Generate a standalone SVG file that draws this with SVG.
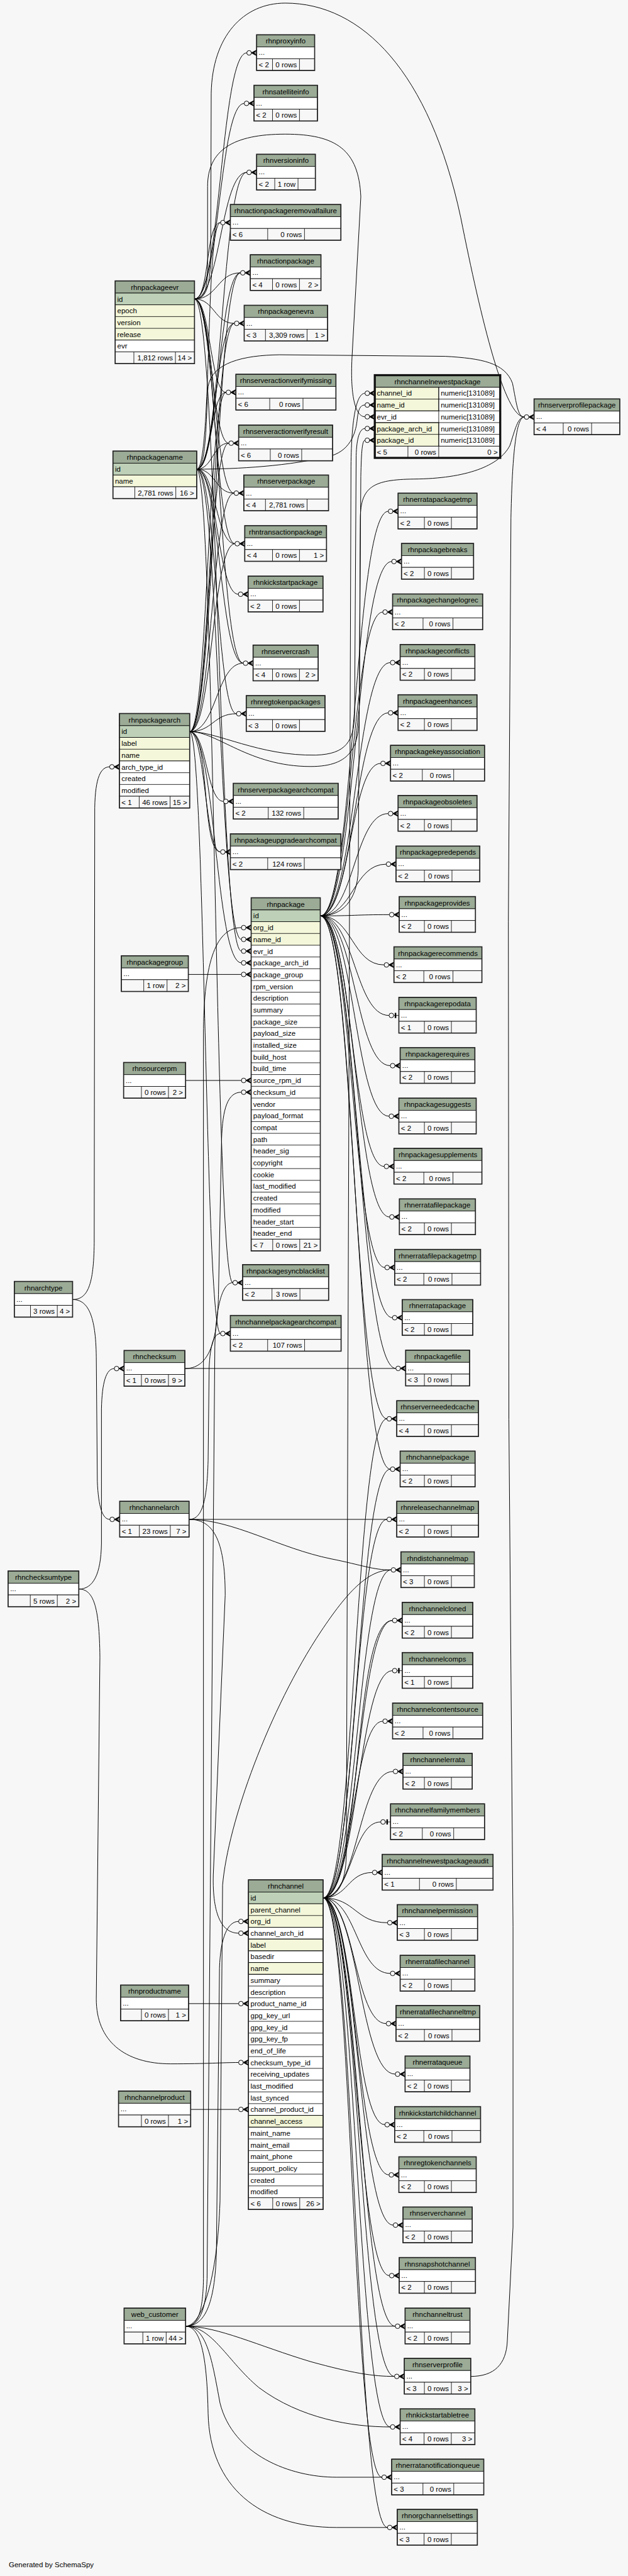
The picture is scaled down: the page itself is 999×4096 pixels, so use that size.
<svg xmlns="http://www.w3.org/2000/svg" xmlns:xlink="http://www.w3.org/1999/xlink" width="999" height="4096" viewBox="0 0 999 4096">
<style>
text{font-family:"Liberation Sans",Arial,Helvetica,sans-serif;font-size:14px;fill:#000}
.c{text-anchor:middle}.r{text-anchor:end}
.h{fill:#9bab96;stroke:#000;stroke-width:1}
.pk{fill:#bed1b8;stroke:#000;stroke-width:1}
.ix{fill:#f4f7da;stroke:#000;stroke-width:1}
.w{fill:#fff;stroke:#000;stroke-width:1}
.f{fill:#f7f7f7;stroke:#000;stroke-width:1}
.d{fill:none;stroke:#000;stroke-width:1}
.b{fill:none;stroke:#222;stroke-width:2}
.bb{fill:none;stroke:#111;stroke-width:4}
.e path{fill:none;stroke:#000;stroke-width:1.2}
.o{fill:#f7f7f7;stroke:#000;stroke-width:1.2}
.k{fill:#000;stroke:#000;stroke-width:1}
</style>
<defs>
<g id="m"><path class="k" d="M-10,0H0M-10.5,0L0,-5.5L0,-3.8L-6,0L0,3.8L0,5.5Z"/><circle class="o" cx="-14.5" cy="0" r="4.5"/></g>
<g id="t"><path class="k" d="M-10,0H0"/><rect x="-8" y="-5" width="3" height="10" fill="#000"/><circle class="o" cx="-14.5" cy="0" r="4.5"/></g>
</defs>
<rect width="999" height="4096" fill="#f7f7f7"/>
<g transform="scale(0.8235)">
<g id="connectors" class="e">
<!-- rhnpackageevr -->
<path d="M375.7,577.3C426.2,577.3 426.2,102.1 476.7,102.1"/>
<path d="M375.7,577.3C423.7,577.3 423.7,199.6 471.7,199.6"/>
<path d="M375.7,577.3C426.2,577.3 426.2,332.8 476.7,332.8"/>
<path d="M375.7,577.3C405.7,577.3 396,429.8 426,429.8"/>
<path d="M375.7,577.3C420.1,577.3 420.1,526.8 464.5,526.8"/>
<path d="M375.7,577.3C414.2,577.3 414.2,624.4 452.7,624.4"/>
<path d="M375.7,577.3C406.2,577.3 406.2,757.6 436.7,757.6"/>
<path d="M375.7,577.3C408.9,577.3 408.8,855.7 442,855.7"/>
<path d="M375.7,577.3C413.9,577.3 413.8,952.2 452,952.2"/>
<path d="M375.7,577.3C414.7,577.3 414.8,1049.8 453.8,1049.8"/>
<path d="M375.7,577.3C422.7,577.3 422.9,1280.5 469.9,1280.5"/>
<path d="M375.7,577.3C420.7,577.3 421.2,1836.5 466.2,1836.5"/>
<path d="M375.7,577.3C395,577.3 400,560 401,520L401,360C401,290 450,259 551,259C650,259 693,290 697,380L680,690C676,770 688,804.7 705,804.7"/>
<path d="M375.7,577.3C396,577.3 405,560 407,500L408,180C410,70 470,6 551,6C700,6 830,140 890,420C930,620 975,805.2 1012.7,805.2"/>
<!-- rhnpackagename -->
<path d="M380,905.9C428.4,905.9 428.3,332.8 476.7,332.8"/>
<path d="M380,905.9C410,905.9 396,429.8 426,429.8"/>
<path d="M380,905.9C422.3,905.9 422.2,526.8 464.5,526.8"/>
<path d="M380,905.9C416.4,905.9 416.3,624.4 452.7,624.4"/>
<path d="M380,905.9C410,905.9 406.7,757.6 436.7,757.6"/>
<path d="M380,905.9C411,905.9 411,855.7 442,855.7"/>
<path d="M380,905.9C416,905.9 416,952.2 452,952.2"/>
<path d="M380,905.9C417,905.9 416.8,1049.8 453.8,1049.8"/>
<path d="M380,905.9C420,905.9 420.3,1147.4 460.3,1147.4"/>
<path d="M380,905.9C425,905.9 424.9,1280.5 469.9,1280.5"/>
<path d="M380,905.9C418,905.9 418.7,1378.1 456.7,1378.1"/>
<path d="M380,905.9C423,905.9 423.2,1813.8 466.2,1813.8"/>
<path d="M380,905.9C415,905.9 414.7,2476.7 449.7,2476.7"/>
<path d="M380,905.9C460,905.9 560,900 640,880C680,868 688,830 690,810C692,790 696,782 705,782"/>
<path d="M380,905.9C400,905.9 398,790 402,746C410,700 470,686 540,685L860,688C930,692 975,700 990,740C998,780 1000,805.2 1012.7,805.2"/>
<!-- rhnpackagearch -->
<path d="M366.4,1412.6C415.4,1412.6 415.5,526.8 464.5,526.8"/>
<path d="M366.4,1412.6C409.4,1412.6 409.7,624.4 452.7,624.4"/>
<path d="M366.4,1412.6C401.4,1412.6 401.7,757.6 436.7,757.6"/>
<path d="M366.4,1412.6C404.4,1412.6 404,855.7 442,855.7"/>
<path d="M366.4,1412.6C409.4,1412.6 409,952.2 452,952.2"/>
<path d="M366.4,1412.6C410.4,1412.6 409.8,1049.8 453.8,1049.8"/>
<path d="M366.4,1412.6C418.4,1412.6 417.9,1280.5 469.9,1280.5"/>
<path d="M366.4,1412.6C411.4,1412.6 411.7,1378.1 456.7,1378.1"/>
<path d="M366.4,1412.6C399.4,1412.6 398.7,1547.4 431.7,1547.4"/>
<path d="M366.4,1412.6C396.4,1412.6 396,1645 426,1645"/>
<path d="M366.4,1412.6C406.4,1412.6 388,1645 426,1645"/>
<path d="M366.4,1412.6C416.4,1412.6 416.2,1859.2 466.2,1859.2"/>
<path d="M366.4,1412.6C396.4,1412.6 396,2574.9 426,2574.9"/>
<path d="M366.4,1412.6C420,1412.6 500,1460 610,1458C670,1456 683,1430 685,1380L688,880C689,845 695,827.4 705,827.4"/>
<path d="M366.4,1412.6C420,1412.6 480,1480 600,1480C680,1480 693,1440 694,1380L696,1000C697,940 720,926 800,925C900,924 965,900 985,860C995,830 1000,805.2 1012.7,805.2"/>
<!-- rhnpackage -->
<path d="M618.7,1768.4C684.4,1768.4 684.3,987.2 750,987.2"/>
<path d="M618.7,1768.4C687.7,1768.4 687.6,1084.2 756.6,1084.2"/>
<path d="M618.7,1768.4C679.1,1768.4 679,1181.8 739.4,1181.8"/>
<path d="M618.7,1768.4C686.4,1768.4 686.3,1279.4 754,1279.4"/>
<path d="M618.7,1768.4C684.4,1768.4 684.3,1376.4 750,1376.4"/>
<path d="M618.7,1768.4C677.1,1768.4 677,1474 735.4,1474"/>
<path d="M618.7,1768.4C684.4,1768.4 684.3,1570.9 750,1570.9"/>
<path d="M618.7,1768.4C682.4,1768.4 682.3,1668.6 746,1668.6"/>
<path d="M618.7,1768.4C685.5,1768.4 685.4,1766.1 752.2,1766.1"/>
<path d="M618.7,1768.4C680.4,1768.4 680.3,1863.1 742,1863.1"/>
<path d="M618.7,1768.4C685.1,1768.4 685.1,1960.7 751.5,1960.7"/>
<path d="M618.7,1768.4C686.4,1768.4 686.3,2057.7 754,2057.7"/>
<path d="M618.7,1768.4C685.1,1768.4 685.1,2155.3 751.5,2155.3"/>
<path d="M618.7,1768.4C680.4,1768.4 680.3,2252.2 742,2252.2"/>
<path d="M618.7,1768.4C685.6,1768.4 685.6,2349.8 752.5,2349.8"/>
<path d="M618.7,1768.4C681.1,1768.4 681,2447.4 743.4,2447.4"/>
<path d="M618.7,1768.4C688.4,1768.4 688.3,2544.3 758,2544.3"/>
<path d="M618.7,1768.4C691.7,1768.4 691.6,2642.2 764.6,2642.2"/>
<path d="M618.7,1768.4C683.1,1768.4 683,2739.5 747.4,2739.5"/>
<path d="M618.7,1768.4C686.4,1768.4 686.3,2836.8 754,2836.8"/>
<path d="M618.7,1768.4C660,1768.4 690,1740 692,1680L697,920C698,870 700,850.1 705,850.1"/>
<!-- rhnchannel -->
<path d="M624.1,3664.6C685.8,3664.6 685.7,2739.5 747.4,2739.5"/>
<path d="M624.1,3664.6C689.1,3664.6 689,2836.8 754,2836.8"/>
<path d="M624.1,3664.6C685.8,3664.6 685.7,2933.7 747.4,2933.7"/>
<path d="M624.1,3664.6C689.8,3664.6 689.8,3031.3 755.5,3031.3"/>
<path d="M624.1,3664.6C691.1,3664.6 691,3128.9 758,3128.9"/>
<path d="M624.1,3664.6C700,3664.6 680,3128.9 758,3128.9"/>
<path d="M624.1,3664.6C691.1,3664.6 691,3225.8 758,3225.8"/>
<path d="M624.1,3664.6C681.8,3664.6 681.7,3323.4 739.4,3323.4"/>
<path d="M624.1,3664.6C691.8,3664.6 691.8,3420.4 759.5,3420.4"/>
<path d="M624.1,3664.6C679.8,3664.6 679.7,3517.9 735.4,3517.9"/>
<path d="M624.1,3664.6C671.7,3664.6 671.7,3615.5 719.3,3615.5"/>
<path d="M624.1,3664.6C686.3,3664.6 686.3,3712.5 748.5,3712.5"/>
<path d="M624.1,3664.6C689.1,3664.6 689,3810.4 754,3810.4"/>
<path d="M624.1,3664.6C685.1,3664.6 685,3907.3 746,3907.3"/>
<path d="M624.1,3664.6C693.8,3664.6 693.8,4004.9 763.5,4004.9"/>
<path d="M624.1,3664.6C683.8,3664.6 683.7,4102.5 743.4,4102.5"/>
<path d="M624.1,3664.6C687.8,3664.6 687.8,4199.4 751.5,4199.4"/>
<path d="M624.1,3664.6C691.8,3664.6 691.8,4296.4 759.5,4296.4"/>
<path d="M624.1,3664.6C688.1,3664.6 688.2,4393.9 752.2,4393.9"/>
<path d="M624.1,3664.6C693.8,3664.6 693.8,4491.6 763.5,4491.6"/>
<path d="M624.1,3664.6C693.1,3664.6 693,4588.5 762,4588.5"/>
<path d="M624.1,3664.6C689.1,3664.6 689,4686.1 754,4686.1"/>
<path d="M624.1,3664.6C680.9,3664.6 680.8,4783.2 737.6,4783.2"/>
<path d="M624.1,3664.6C686.3,3664.6 686.2,4880.2 748.4,4880.2"/>
<path d="M624.1,3664.6C650,3664.6 668,3640 669,3580L678,900C679,800 690,759.3 705,759.3"/>
<!-- rhnserverprofile -->
<path d="M909.3,4588.5C955,4588.5 978,4565 980,4520L991,4300L991,3720L983,2740L982,1780L987,1000C989,900 995,805.2 1012.7,805.2"/>
<!-- web_customer -->
<path d="M358.5,4491.6L763.5,4491.6"/>
<path d="M358.5,4491.6C420,4491.6 500,4530 600,4560C680,4582 720,4588.5 762,4588.5"/>
<path d="M358.5,4491.6C410,4491.6 440,4560 500,4610C580,4670 680,4686.1 754,4686.1"/>
<path d="M358.5,4491.6C400,4491.6 410,4560 425,4640C450,4740 560,4783.2 650,4783.2L737.6,4783.2"/>
<path d="M358.5,4491.6C390,4491.6 400,4560 402,4660C405,4800 500,4880.2 650,4880.2L748.4,4880.2"/>
<path d="M358.5,4491.6C380,4491.6 392,4470 393,4400L393,2000C393,1850 420,1791.1 466.2,1791.1"/>
<path d="M358.5,4491.6C395,4491.6 415,4450 418,4350L424,3800C426,3740 440,3710 460.9,3710"/>
<path d="M358.5,4491.6C385,4491.6 398,4460 400,4400L415,2600C417,2520 430,2476.7 449.7,2476.7"/>
<path d="M358.5,4491.6C390,4491.6 420,4400 425,4250L430,3640C440,3520 520,3300 620,3150C670,3075 710,3031.3 755.5,3031.3"/>
<!-- rhnchannelarch -->
<path d="M365.2,2933.7C410,2933.7 435,2970 435,3080L412,3620C410,3700 430,3732.7 460.9,3732.7"/>
<path d="M365.2,2933.7L747.4,2933.7"/>
<path d="M365.2,2933.7C450,2933.7 540,2990 640,3010C700,3022 720,3031.3 755.5,3031.3"/>
<path d="M365.2,2933.7C390,2933.7 400,2900 402,2820L404,2640C406,2600 412,2574.9 426,2574.9"/>
<!-- rhnarchtype -->
<path d="M140.2,2509.2C170,2509.2 181,2480 182,2400L183,1560C184,1500 195,1480.7 211.7,1480.7"/>
<path d="M140.2,2509.2C170,2509.2 185,2540 186,2620L188,2860C190,2910 198,2933.7 212.2,2933.7"/>
<!-- rhnchecksumtype -->
<path d="M152.2,3068.3C180,3068.3 195,3040 196,2980L196,2720C197,2670 205,2642.5 220.7,2642.5"/>
<path d="M152.2,3068.3C180,3068.3 192,3100 193,3200L186,3860C186,3940 240,3985 330,3985C400,3985 430,3982.4 460.9,3982.4"/>
<!-- rhnchecksum -->
<path d="M357.1,2642.5C400,2642.5 420,2600 422,2500L428,2200C430,2140 440,2108.9 466.2,2108.9"/>
<path d="M357.1,2642.3L764.6,2642.3"/>
<!-- single links -->
<path d="M363.8,1881.5L466.2,1881.5"/>
<path d="M358.5,2086.2L466.2,2086.2"/>
<path d="M364.3,3868.7L460.9,3868.7"/>
<path d="M368.3,4073L460.9,4073"/>
</g>
<g id="markers">
<use href="#m" x="495.7" y="102.1"/><use href="#m" x="490.7" y="199.6"/><use href="#m" x="495.7" y="332.8"/><use href="#m" x="445" y="429.8"/><use href="#m" x="483.5" y="526.8"/><use href="#m" x="471.7" y="624.4"/><use href="#m" x="455.7" y="757.6"/><use href="#m" x="461" y="855.7"/><use href="#m" x="471" y="952.2"/><use href="#m" x="472.8" y="1049.8"/><use href="#m" x="479.3" y="1147.4"/><use href="#m" x="488.9" y="1280.5"/><use href="#m" x="475.7" y="1378.1"/><use href="#m" x="450.7" y="1547.4"/><use href="#m" x="445" y="1645"/><use href="#m" x="468.7" y="2476.7"/><use href="#m" x="445" y="2574.9"/><use href="#m" x="239.7" y="2642.5"/><use href="#m" x="231.2" y="2933.7"/><use href="#m" x="230.7" y="1480.7"/><use href="#m" x="1031.7" y="805.2"/>
<use href="#m" x="724" y="759.3"/><use href="#m" x="724" y="782"/><use href="#m" x="724" y="804.7"/><use href="#m" x="724" y="827.4"/><use href="#m" x="724" y="850.1"/>
<use href="#m" x="485.2" y="1791.1"/><use href="#m" x="485.2" y="1813.8"/><use href="#m" x="485.2" y="1836.5"/><use href="#m" x="485.2" y="1859.2"/><use href="#m" x="485.2" y="1881.5"/><use href="#m" x="485.2" y="2086.2"/><use href="#m" x="485.2" y="2108.9"/>
<use href="#m" x="479.9" y="3710"/><use href="#m" x="479.9" y="3732.7"/><use href="#m" x="479.9" y="3868.7"/><use href="#m" x="479.9" y="3982.4"/><use href="#m" x="479.9" y="4073"/>
<use href="#m" x="769" y="987.2"/><use href="#m" x="775.6" y="1084.2"/><use href="#m" x="758.4" y="1181.8"/><use href="#m" x="773" y="1279.4"/><use href="#m" x="769" y="1376.4"/><use href="#m" x="754.4" y="1474"/><use href="#m" x="769" y="1570.9"/><use href="#m" x="765" y="1668.6"/><use href="#m" x="771.2" y="1766.1"/><use href="#m" x="761" y="1863.1"/><use href="#t" x="770.5" y="1960.7"/><use href="#m" x="773" y="2057.7"/><use href="#m" x="770.5" y="2155.3"/><use href="#m" x="761" y="2252.2"/><use href="#m" x="771.5" y="2349.8"/><use href="#m" x="762.4" y="2447.4"/><use href="#m" x="777" y="2544.3"/><use href="#m" x="783.6" y="2642.2"/><use href="#m" x="766.4" y="2739.5"/><use href="#m" x="773" y="2836.8"/><use href="#m" x="766.4" y="2933.7"/><use href="#m" x="774.5" y="3031.3"/><use href="#m" x="777" y="3128.9"/><use href="#t" x="777" y="3225.8"/><use href="#m" x="758.4" y="3323.4"/><use href="#m" x="778.5" y="3420.4"/><use href="#t" x="754.4" y="3517.9"/><use href="#m" x="738.3" y="3615.5"/><use href="#m" x="767.5" y="3712.5"/><use href="#m" x="773" y="3810.4"/><use href="#m" x="765" y="3907.3"/><use href="#m" x="782.5" y="4004.9"/><use href="#m" x="762.4" y="4102.5"/><use href="#m" x="770.5" y="4199.4"/><use href="#m" x="778.5" y="4296.4"/><use href="#m" x="771.2" y="4393.9"/><use href="#m" x="782.5" y="4491.6"/><use href="#m" x="781" y="4588.5"/><use href="#m" x="773" y="4686.1"/><use href="#m" x="756.6" y="4783.2"/><use href="#m" x="767.4" y="4880.2"/>
</g>

<!-- detailed tables -->
<g id="rhnpackageevr" transform="translate(222.5,542.4)"><rect class="h" width="153.2" height="23.5"/><rect class="pk" y="23.5" width="153.2" height="22.7"/><rect class="ix" y="46.2" width="153.2" height="68.1"/><rect class="w" y="114.3" width="153.2" height="22.7"/><rect class="f" y="137" width="153.2" height="22.7"/><path class="d" d="M0,68.9H153.2M0,91.6H153.2M36.1,137V159.7M116.4,137V159.7"/><rect class="b" width="153.2" height="159.7"/><text class="c" x="76.6" y="17">rhnpackageevr</text><text x="4" y="40">id</text><text x="4" y="62.7">epoch</text><text x="4" y="85.4">version</text><text x="4" y="108.1">release</text><text x="4" y="130.8">evr</text><text class="r" x="111.4" y="153.5">1,812 rows</text><text class="r" x="148.2" y="153.5">14 &gt;</text></g>

<g id="rhnpackagename" transform="translate(218.2,871)"><rect class="h" width="161.8" height="23.5"/><rect class="pk" y="23.5" width="161.8" height="22.7"/><rect class="ix" y="46.2" width="161.8" height="22.7"/><rect class="f" y="68.9" width="161.8" height="22.7"/><path class="d" d="M42.2,68.9V91.6M121.4,68.9V91.6"/><rect class="b" width="161.8" height="91.6"/><text class="c" x="80.9" y="17">rhnpackagename</text><text x="4" y="40">id</text><text x="4" y="62.7">name</text><text class="r" x="116.4" y="85.4">2,781 rows</text><text class="r" x="156.8" y="85.4">16 &gt;</text></g>

<g id="rhnpackagearch" transform="translate(230.7,1377.7)"><rect class="h" width="135.7" height="23.5"/><rect class="pk" y="23.5" width="135.7" height="22.7"/><rect class="ix" y="46.2" width="135.7" height="45.4"/><rect class="w" y="91.6" width="135.7" height="68.1"/><rect class="f" y="159.7" width="135.7" height="22.7"/><path class="d" d="M0,68.9H135.7M0,114.3H135.7M0,137H135.7M38.2,159.7V182.4M97.9,159.7V182.4"/><rect class="b" width="135.7" height="182.4"/><text class="c" x="67.85" y="17">rhnpackagearch</text><text x="4" y="40">id</text><text x="4" y="62.7">label</text><text x="4" y="85.4">name</text><text x="4" y="108.1">arch_type_id</text><text x="4" y="130.8">created</text><text x="4" y="153.5">modified</text><text x="4" y="176.2">&lt; 1</text><text class="r" x="92.9" y="176.2">46 rows</text><text class="r" x="130.7" y="176.2">15 &gt;</text></g>

<g id="rhnpackage" transform="translate(485.2,1733.5)"><rect class="h" width="133.5" height="23.5"/><rect class="w" y="23.5" width="133.5" height="635.6"/><rect class="pk" y="23.5" width="133.5" height="22.7"/><rect class="ix" y="46.2" width="133.5" height="45.4"/><rect class="f" y="659.1" width="133.5" height="22.7"/><path class="d" d="M0,68.9h133.5M0,114.3h133.5M0,137h133.5M0,159.7h133.5M0,182.4h133.5M0,205.1h133.5M0,227.8h133.5M0,250.5h133.5M0,273.2h133.5M0,295.9h133.5M0,318.6h133.5M0,341.3h133.5M0,364h133.5M0,386.7h133.5M0,409.4h133.5M0,432.1h133.5M0,454.8h133.5M0,477.5h133.5M0,500.2h133.5M0,522.9h133.5M0,545.6h133.5M0,568.3h133.5M0,591h133.5M0,613.7h133.5M0,636.4h133.5M41.6,659.1V681.8M93.8,659.1V681.8"/><rect class="b" width="133.5" height="681.8"/><text class="c" x="66.75" y="17">rhnpackage</text><text x="4" y="40">id</text><text x="4" y="62.7">org_id</text><text x="4" y="85.4">name_id</text><text x="4" y="108.1">evr_id</text><text x="4" y="130.8">package_arch_id</text><text x="4" y="153.5">package_group</text><text x="4" y="176.2">rpm_version</text><text x="4" y="198.9">description</text><text x="4" y="221.6">summary</text><text x="4" y="244.3">package_size</text><text x="4" y="267">payload_size</text><text x="4" y="289.7">installed_size</text><text x="4" y="312.4">build_host</text><text x="4" y="335.1">build_time</text><text x="4" y="357.8">source_rpm_id</text><text x="4" y="380.5">checksum_id</text><text x="4" y="403.2">vendor</text><text x="4" y="425.9">payload_format</text><text x="4" y="448.6">compat</text><text x="4" y="471.3">path</text><text x="4" y="494">header_sig</text><text x="4" y="516.7">copyright</text><text x="4" y="539.4">cookie</text><text x="4" y="562.1">last_modified</text><text x="4" y="584.8">created</text><text x="4" y="607.5">modified</text><text x="4" y="630.2">header_start</text><text x="4" y="652.9">header_end</text><text x="4" y="675.6">&lt; 7</text><text class="r" x="88.8" y="675.6">0 rows</text><text class="r" x="128.5" y="675.6">21 &gt;</text></g>

<g id="rhnchannel" transform="translate(479.9,3629.7)"><rect class="h" width="144.2" height="23.5"/><rect class="w" y="23.5" width="144.2" height="590.2"/><rect class="pk" y="23.5" width="144.2" height="22.7"/><rect class="ix" y="46.2" width="144.2" height="45.4"/><rect class="ix" y="114.3" width="144.2" height="22.7"/><rect class="ix" y="159.7" width="144.2" height="22.7"/><rect class="ix" y="454.8" width="144.2" height="22.7"/><rect class="f" y="613.7" width="144.2" height="22.7"/><path class="d" d="M0,68.9h144.2M0,91.6h144.2M0,114.3h144.2M0,137h144.2M0,159.7h144.2M0,182.4h144.2M0,205.1h144.2M0,227.8h144.2M0,250.5h144.2M0,273.2h144.2M0,295.9h144.2M0,318.6h144.2M0,341.3h144.2M0,364h144.2M0,386.7h144.2M0,409.4h144.2M0,432.1h144.2M0,454.8h144.2M0,477.5h144.2M0,500.2h144.2M0,522.9h144.2M0,545.6h144.2M0,568.3h144.2M0,591h144.2M46.9,613.7V636.4M99.1,613.7V636.4"/><rect class="b" width="144.2" height="636.4"/><text class="c" x="72.1" y="17">rhnchannel</text><text x="4" y="40">id</text><text x="4" y="62.7">parent_channel</text><text x="4" y="85.4">org_id</text><text x="4" y="108.1">channel_arch_id</text><text x="4" y="130.8">label</text><text x="4" y="153.5">basedir</text><text x="4" y="176.2">name</text><text x="4" y="198.9">summary</text><text x="4" y="221.6">description</text><text x="4" y="244.3">product_name_id</text><text x="4" y="267">gpg_key_url</text><text x="4" y="289.7">gpg_key_id</text><text x="4" y="312.4">gpg_key_fp</text><text x="4" y="335.1">end_of_life</text><text x="4" y="357.8">checksum_type_id</text><text x="4" y="380.5">receiving_updates</text><text x="4" y="403.2">last_modified</text><text x="4" y="425.9">last_synced</text><text x="4" y="448.6">channel_product_id</text><text x="4" y="471.3">channel_access</text><text x="4" y="494">maint_name</text><text x="4" y="516.7">maint_email</text><text x="4" y="539.4">maint_phone</text><text x="4" y="562.1">support_policy</text><text x="4" y="584.8">created</text><text x="4" y="607.5">modified</text><text x="4" y="630.2">&lt; 6</text><text class="r" x="94.1" y="630.2">0 rows</text><text class="r" x="139.2" y="630.2">26 &gt;</text></g>

<g id="rhnchannelnewestpackage" transform="translate(724,724.4)"><rect class="h" width="242.3" height="23.5"/><rect class="w" y="23.5" width="242.3" height="113.5"/><rect class="ix" y="23.5" width="123.5" height="45.4"/><rect class="ix" y="91.6" width="123.5" height="45.4"/><rect class="f" y="137" width="242.3" height="22.7"/><path class="d" d="M0,46.2h242.3M0,68.9h242.3M0,91.6h242.3M0,114.3h242.3M123.5,23.5V159.7M64,137V159.7"/><rect class="bb" width="242.3" height="159.7"/><text class="c" x="121.15" y="17">rhnchannelnewestpackage</text><text x="4" y="40">channel_id</text><text x="4" y="62.7">name_id</text><text x="4" y="85.4">evr_id</text><text x="4" y="108.1">package_arch_id</text><text x="4" y="130.8">package_id</text><text x="127.5" y="40">numeric[131089]</text><text x="127.5" y="62.7">numeric[131089]</text><text x="127.5" y="85.4">numeric[131089]</text><text x="127.5" y="108.1">numeric[131089]</text><text x="127.5" y="130.8">numeric[131089]</text><text x="4" y="153.5">&lt; 5</text><text class="r" x="118.5" y="153.5">0 rows</text><text class="r" x="237.3" y="153.5">0 &gt;</text></g>

<!-- collapsed tables -->
<g id="rhnproxyinfo" transform="translate(495.7,67.2)"><rect class="h" width="112.1" height="23.5"/><rect class="w" y="23.5" width="112.1" height="22.7"/><rect class="f" y="46.2" width="112.1" height="22.7"/><path class="d" d="M30.7,46.2V68.9M82.8,46.2V68.9"/><rect class="b" width="112.1" height="68.9"/><text class="c" x="56.05" y="17">rhnproxyinfo</text><text x="4" y="39">...</text><text x="4" y="62.7">&lt; 2</text><text class="r" x="77.8" y="62.7">0 rows</text></g>
<g id="rhnsatelliteinfo" transform="translate(490.7,164.7)"><rect class="h" width="122.5" height="23.5"/><rect class="w" y="23.5" width="122.5" height="22.7"/><rect class="f" y="46.2" width="122.5" height="22.7"/><path class="d" d="M35.7,46.2V68.9M87.8,46.2V68.9"/><rect class="b" width="122.5" height="68.9"/><text class="c" x="61.25" y="17">rhnsatelliteinfo</text><text x="4" y="39">...</text><text x="4" y="62.7">&lt; 2</text><text class="r" x="82.8" y="62.7">0 rows</text></g>
<g id="rhnversioninfo" transform="translate(495.7,297.9)"><rect class="h" width="113.5" height="23.5"/><rect class="w" y="23.5" width="113.5" height="22.7"/><rect class="f" y="46.2" width="113.5" height="22.7"/><path class="d" d="M35,46.2V68.9M80,46.2V68.9"/><rect class="b" width="113.5" height="68.9"/><text class="c" x="56.75" y="17">rhnversioninfo</text><text x="4" y="39">...</text><text x="4" y="62.7">&lt; 2</text><text class="r" x="75" y="62.7">1 row</text></g>
<g id="rhnactionpackageremovalfailure" transform="translate(445,394.9)"><rect class="h" width="213.5" height="23.5"/><rect class="w" y="23.5" width="213.5" height="22.7"/><rect class="f" y="46.2" width="213.5" height="22.7"/><path class="d" d="M72.1,46.2V68.9M143.2,46.2V68.9"/><rect class="b" width="213.5" height="68.9"/><text class="c" x="106.75" y="17">rhnactionpackageremovalfailure</text><text x="4" y="39">...</text><text x="4" y="62.7">&lt; 6</text><text class="r" x="138.2" y="62.7">0 rows</text></g>
<g id="rhnactionpackage" transform="translate(483.5,491.9)"><rect class="h" width="136.5" height="23.5"/><rect class="w" y="23.5" width="136.5" height="22.7"/><rect class="f" y="46.2" width="136.5" height="22.7"/><path class="d" d="M42.9,46.2V68.9M95,46.2V68.9"/><rect class="b" width="136.5" height="68.9"/><text class="c" x="68.25" y="17">rhnactionpackage</text><text x="4" y="39">...</text><text x="4" y="62.7">&lt; 4</text><text class="r" x="90" y="62.7">0 rows</text><text class="r" x="131.5" y="62.7">2 &gt;</text></g>
<g id="rhnpackagenevra" transform="translate(471.7,589.5)"><rect class="h" width="161.1" height="23.5"/><rect class="w" y="23.5" width="161.1" height="22.7"/><rect class="f" y="46.2" width="161.1" height="22.7"/><path class="d" d="M41.1,46.2V68.9M121.5,46.2V68.9"/><rect class="b" width="161.1" height="68.9"/><text class="c" x="80.55" y="17">rhnpackagenevra</text><text x="4" y="39">...</text><text x="4" y="62.7">&lt; 3</text><text class="r" x="116.5" y="62.7">3,309 rows</text><text class="r" x="156.1" y="62.7">1 &gt;</text></g>
<g id="rhnserveractionverifymissing" transform="translate(455.7,722.7)"><rect class="h" width="193.2" height="23.5"/><rect class="w" y="23.5" width="193.2" height="22.7"/><rect class="f" y="46.2" width="193.2" height="22.7"/><path class="d" d="M65.3,46.2V68.9M129.6,46.2V68.9"/><rect class="b" width="193.2" height="68.9"/><text class="c" x="96.6" y="17">rhnserveractionverifymissing</text><text x="4" y="39">...</text><text x="4" y="62.7">&lt; 6</text><text class="r" x="124.6" y="62.7">0 rows</text></g>
<g id="rhnserveractionverifyresult" transform="translate(461,820.8)"><rect class="h" width="181.5" height="23.5"/><rect class="w" y="23.5" width="181.5" height="22.7"/><rect class="f" y="46.2" width="181.5" height="22.7"/><path class="d" d="M61.1,46.2V68.9M121.8,46.2V68.9"/><rect class="b" width="181.5" height="68.9"/><text class="c" x="90.75" y="17">rhnserveractionverifyresult</text><text x="4" y="39">...</text><text x="4" y="62.7">&lt; 6</text><text class="r" x="116.8" y="62.7">0 rows</text></g>
<g id="rhnserverpackage" transform="translate(471,917.3)"><rect class="h" width="163.6" height="23.5"/><rect class="w" y="23.5" width="163.6" height="22.7"/><rect class="f" y="46.2" width="163.6" height="22.7"/><path class="d" d="M41.8,46.2V68.9M122.2,46.2V68.9"/><rect class="b" width="163.6" height="68.9"/><text class="c" x="81.8" y="17">rhnserverpackage</text><text x="4" y="39">...</text><text x="4" y="62.7">&lt; 4</text><text class="r" x="117.2" y="62.7">2,781 rows</text></g>
<g id="rhntransactionpackage" transform="translate(472.8,1014.9)"><rect class="h" width="157.9" height="23.5"/><rect class="w" y="23.5" width="157.9" height="22.7"/><rect class="f" y="46.2" width="157.9" height="22.7"/><path class="d" d="M53.6,46.2V68.9M105.7,46.2V68.9"/><rect class="b" width="157.9" height="68.9"/><text class="c" x="78.95" y="17">rhntransactionpackage</text><text x="4" y="39">...</text><text x="4" y="62.7">&lt; 4</text><text class="r" x="100.7" y="62.7">0 rows</text><text class="r" x="152.9" y="62.7">1 &gt;</text></g>
<g id="rhnkickstartpackage" transform="translate(479.3,1112.5)"><rect class="h" width="144.6" height="23.5"/><rect class="w" y="23.5" width="144.6" height="22.7"/><rect class="f" y="46.2" width="144.6" height="22.7"/><path class="d" d="M47.1,46.2V68.9M99.2,46.2V68.9"/><rect class="b" width="144.6" height="68.9"/><text class="c" x="72.3" y="17">rhnkickstartpackage</text><text x="4" y="39">...</text><text x="4" y="62.7">&lt; 2</text><text class="r" x="94.2" y="62.7">0 rows</text></g>
<g id="rhnservercrash" transform="translate(488.9,1245.6)"><rect class="h" width="125.7" height="23.5"/><rect class="w" y="23.5" width="125.7" height="22.7"/><rect class="f" y="46.2" width="125.7" height="22.7"/><path class="d" d="M37.5,46.2V68.9M89.6,46.2V68.9"/><rect class="b" width="125.7" height="68.9"/><text class="c" x="62.85" y="17">rhnservercrash</text><text x="4" y="39">...</text><text x="4" y="62.7">&lt; 4</text><text class="r" x="84.6" y="62.7">0 rows</text><text class="r" x="120.7" y="62.7">2 &gt;</text></g>
<g id="rhnregtokenpackages" transform="translate(475.7,1343.2)"><rect class="h" width="152.1" height="23.5"/><rect class="w" y="23.5" width="152.1" height="22.7"/><rect class="f" y="46.2" width="152.1" height="22.7"/><path class="d" d="M50.7,46.2V68.9M102.8,46.2V68.9"/><rect class="b" width="152.1" height="68.9"/><text class="c" x="76.05" y="17">rhnregtokenpackages</text><text x="4" y="39">...</text><text x="4" y="62.7">&lt; 3</text><text class="r" x="97.8" y="62.7">0 rows</text></g>
<g id="rhnserverpackagearchcompat" transform="translate(450.7,1512.5)"><rect class="h" width="202.5" height="23.5"/><rect class="w" y="23.5" width="202.5" height="22.7"/><rect class="f" y="46.2" width="202.5" height="22.7"/><path class="d" d="M67.5,46.2V68.9M136,46.2V68.9"/><rect class="b" width="202.5" height="68.9"/><text class="c" x="101.25" y="17">rhnserverpackagearchcompat</text><text x="4" y="39">...</text><text x="4" y="62.7">&lt; 2</text><text class="r" x="131" y="62.7">132 rows</text></g>
<g id="rhnpackageupgradearchcompat" transform="translate(445,1610.1)"><rect class="h" width="213.5" height="23.5"/><rect class="w" y="23.5" width="213.5" height="22.7"/><rect class="f" y="46.2" width="213.5" height="22.7"/><path class="d" d="M72.1,46.2V68.9M142.8,46.2V68.9"/><rect class="b" width="213.5" height="68.9"/><text class="c" x="106.75" y="17">rhnpackageupgradearchcompat</text><text x="4" y="39">...</text><text x="4" y="62.7">&lt; 2</text><text class="r" x="137.8" y="62.7">124 rows</text></g>
<g id="rhnpackagesyncblacklist" transform="translate(468.7,2441.8)"><rect class="h" width="166.1" height="23.5"/><rect class="w" y="23.5" width="166.1" height="22.7"/><rect class="f" y="46.2" width="166.1" height="22.7"/><path class="d" d="M56.7,46.2V68.9M110.7,46.2V68.9"/><rect class="b" width="166.1" height="68.9"/><text class="c" x="83.05" y="17">rhnpackagesyncblacklist</text><text x="4" y="39">...</text><text x="4" y="62.7">&lt; 2</text><text class="r" x="105.7" y="62.7">3 rows</text></g>
<g id="rhnchannelpackagearchcompat" transform="translate(445,2540)"><rect class="h" width="213.9" height="23.5"/><rect class="w" y="23.5" width="213.9" height="22.7"/><rect class="f" y="46.2" width="213.9" height="22.7"/><path class="d" d="M72,46.2V68.9M143.4,46.2V68.9"/><rect class="b" width="213.9" height="68.9"/><text class="c" x="106.95" y="17">rhnchannelpackagearchcompat</text><text x="4" y="39">...</text><text x="4" y="62.7">&lt; 2</text><text class="r" x="138.4" y="62.7">107 rows</text></g>

<g id="rhnpackagegroup" transform="translate(234.4,1845.5)"><rect class="h" width="129.4" height="23.5"/><rect class="w" y="23.5" width="129.4" height="22.7"/><rect class="f" y="46.2" width="129.4" height="22.7"/><path class="d" d="M43.3,46.2V68.9M88.3,46.2V68.9"/><rect class="b" width="129.4" height="68.9"/><text class="c" x="64.7" y="17">rhnpackagegroup</text><text x="4" y="39">...</text><text class="r" x="83.3" y="62.7">1 row</text><text class="r" x="124.4" y="62.7">2 &gt;</text></g>
<g id="rhnsourcerpm" transform="translate(238.8,2051.5)"><rect class="h" width="119.7" height="23.5"/><rect class="w" y="23.5" width="119.7" height="22.7"/><rect class="f" y="46.2" width="119.7" height="22.7"/><path class="d" d="M34.4,46.2V68.9M86.6,46.2V68.9"/><rect class="b" width="119.7" height="68.9"/><text class="c" x="59.85" y="17">rhnsourcerpm</text><text x="4" y="39">...</text><text class="r" x="81.6" y="62.7">0 rows</text><text class="r" x="114.7" y="62.7">2 &gt;</text></g>
<g id="rhnarchtype" transform="translate(27.7,2474.3)"><rect class="h" width="112.5" height="23.5"/><rect class="w" y="23.5" width="112.5" height="22.7"/><rect class="f" y="46.2" width="112.5" height="22.7"/><path class="d" d="M31.2,46.2V68.9M83,46.2V68.9"/><rect class="b" width="112.5" height="68.9"/><text class="c" x="56.25" y="17">rhnarchtype</text><text x="4" y="39">...</text><text class="r" x="78" y="62.7">3 rows</text><text class="r" x="107.5" y="62.7">4 &gt;</text></g>
<g id="rhnchecksum" transform="translate(239.7,2607.6)"><rect class="h" width="117.4" height="23.5"/><rect class="w" y="23.5" width="117.4" height="22.7"/><rect class="f" y="46.2" width="117.4" height="22.7"/><path class="d" d="M33.5,46.2V68.9M85.7,46.2V68.9"/><rect class="b" width="117.4" height="68.9"/><text class="c" x="58.7" y="17">rhnchecksum</text><text x="4" y="39">...</text><text x="4" y="62.7">&lt; 1</text><text class="r" x="80.7" y="62.7">0 rows</text><text class="r" x="112.4" y="62.7">9 &gt;</text></g>
<g id="rhnchannelarch" transform="translate(231.2,2898.8)"><rect class="h" width="134" height="23.5"/><rect class="w" y="23.5" width="134" height="22.7"/><rect class="f" y="46.2" width="134" height="22.7"/><path class="d" d="M38,46.2V68.9M97.8,46.2V68.9"/><rect class="b" width="134" height="68.9"/><text class="c" x="67" y="17">rhnchannelarch</text><text x="4" y="39">...</text><text x="4" y="62.7">&lt; 1</text><text class="r" x="92.8" y="62.7">23 rows</text><text class="r" x="129" y="62.7">7 &gt;</text></g>
<g id="rhnchecksumtype" transform="translate(15.6,3033.4)"><rect class="h" width="136.6" height="23.5"/><rect class="w" y="23.5" width="136.6" height="22.7"/><rect class="f" y="46.2" width="136.6" height="22.7"/><path class="d" d="M42.9,46.2V68.9M95.1,46.2V68.9"/><rect class="b" width="136.6" height="68.9"/><text class="c" x="68.3" y="17">rhnchecksumtype</text><text x="4" y="39">...</text><text class="r" x="90.1" y="62.7">5 rows</text><text class="r" x="131.6" y="62.7">2 &gt;</text></g>
<g id="rhnproductname" transform="translate(233,3832.9)"><rect class="h" width="131.3" height="23.5"/><rect class="w" y="23.5" width="131.3" height="22.7"/><rect class="f" y="46.2" width="131.3" height="22.7"/><path class="d" d="M40.2,46.2V68.9M92.4,46.2V68.9"/><rect class="b" width="131.3" height="68.9"/><text class="c" x="65.65" y="17">rhnproductname</text><text x="4" y="39">...</text><text class="r" x="87.4" y="62.7">0 rows</text><text class="r" x="126.3" y="62.7">1 &gt;</text></g>
<g id="rhnchannelproduct" transform="translate(229,4037.6)"><rect class="h" width="139.3" height="23.5"/><rect class="w" y="23.5" width="139.3" height="22.7"/><rect class="f" y="46.2" width="139.3" height="22.7"/><path class="d" d="M44.2,46.2V68.9M96.4,46.2V68.9"/><rect class="b" width="139.3" height="68.9"/><text class="c" x="69.65" y="17">rhnchannelproduct</text><text x="4" y="39">...</text><text class="r" x="91.4" y="62.7">0 rows</text><text class="r" x="134.3" y="62.7">1 &gt;</text></g>
<g id="web_customer" transform="translate(239.7,4456.7)"><rect class="h" width="118.8" height="23.5"/><rect class="w" y="23.5" width="118.8" height="22.7"/><rect class="f" y="46.2" width="118.8" height="22.7"/><path class="d" d="M36.2,46.2V68.9M81.3,46.2V68.9"/><rect class="b" width="118.8" height="68.9"/><text class="c" x="59.4" y="17">web_customer</text><text x="4" y="39">...</text><text class="r" x="76.3" y="62.7">1 row</text><text class="r" x="113.8" y="62.7">44 &gt;</text></g>
<g id="rhnserverprofilepackage" transform="translate(1031.7,770.3)"><rect class="h" width="165.5" height="23.5"/><rect class="w" y="23.5" width="165.5" height="22.7"/><rect class="f" y="46.2" width="165.5" height="22.7"/><path class="d" d="M56.3,46.2V68.9M111.1,46.2V68.9"/><rect class="b" width="165.5" height="68.9"/><text class="c" x="82.75" y="17">rhnserverprofilepackage</text><text x="4" y="39">...</text><text x="4" y="62.7">&lt; 4</text><text class="r" x="106.1" y="62.7">0 rows</text></g>

<g id="rhnerratapackagetmp" transform="translate(769,952.3)"><rect class="h" width="152.4" height="23.5"/><rect class="w" y="23.5" width="152.4" height="22.7"/><rect class="f" y="46.2" width="152.4" height="22.7"/><path class="d" d="M50.8,46.2V68.9M103,46.2V68.9"/><rect class="b" width="152.4" height="68.9"/><text class="c" x="76.2" y="17">rhnerratapackagetmp</text><text x="4" y="39">...</text><text x="4" y="62.7">&lt; 2</text><text class="r" x="98" y="62.7">0 rows</text></g>
<g id="rhnpackagebreaks" transform="translate(775.6,1049.3)"><rect class="h" width="139.2" height="23.5"/><rect class="w" y="23.5" width="139.2" height="22.7"/><rect class="f" y="46.2" width="139.2" height="22.7"/><path class="d" d="M44.2,46.2V68.9M96.4,46.2V68.9"/><rect class="b" width="139.2" height="68.9"/><text class="c" x="69.6" y="17">rhnpackagebreaks</text><text x="4" y="39">...</text><text x="4" y="62.7">&lt; 2</text><text class="r" x="91.4" y="62.7">0 rows</text></g>
<g id="rhnpackagechangelogrec" transform="translate(758.4,1146.9)"><rect class="h" width="173.9" height="23.5"/><rect class="w" y="23.5" width="173.9" height="22.7"/><rect class="f" y="46.2" width="173.9" height="22.7"/><path class="d" d="M58.8,46.2V68.9M116.6,46.2V68.9"/><rect class="b" width="173.9" height="68.9"/><text class="c" x="86.95" y="17">rhnpackagechangelogrec</text><text x="4" y="39">...</text><text x="4" y="62.7">&lt; 2</text><text class="r" x="111.6" y="62.7">0 rows</text></g>
<g id="rhnpackageconflicts" transform="translate(773,1244.5)"><rect class="h" width="144.3" height="23.5"/><rect class="w" y="23.5" width="144.3" height="22.7"/><rect class="f" y="46.2" width="144.3" height="22.7"/><path class="d" d="M46.8,46.2V68.9M99,46.2V68.9"/><rect class="b" width="144.3" height="68.9"/><text class="c" x="72.15" y="17">rhnpackageconflicts</text><text x="4" y="39">...</text><text x="4" y="62.7">&lt; 2</text><text class="r" x="94" y="62.7">0 rows</text></g>
<g id="rhnpackageenhances" transform="translate(769,1341.5)"><rect class="h" width="152.4" height="23.5"/><rect class="w" y="23.5" width="152.4" height="22.7"/><rect class="f" y="46.2" width="152.4" height="22.7"/><path class="d" d="M50.8,46.2V68.9M103,46.2V68.9"/><rect class="b" width="152.4" height="68.9"/><text class="c" x="76.2" y="17">rhnpackageenhances</text><text x="4" y="39">...</text><text x="4" y="62.7">&lt; 2</text><text class="r" x="98" y="62.7">0 rows</text></g>
<g id="rhnpackagekeyassociation" transform="translate(754.4,1439.1)"><rect class="h" width="181.6" height="23.5"/><rect class="w" y="23.5" width="181.6" height="22.7"/><rect class="f" y="46.2" width="181.6" height="22.7"/><path class="d" d="M61.4,46.2V68.9M122,46.2V68.9"/><rect class="b" width="181.6" height="68.9"/><text class="c" x="90.8" y="17">rhnpackagekeyassociation</text><text x="4" y="39">...</text><text x="4" y="62.7">&lt; 2</text><text class="r" x="117" y="62.7">0 rows</text></g>
<g id="rhnpackageobsoletes" transform="translate(769,1536)"><rect class="h" width="152.4" height="23.5"/><rect class="w" y="23.5" width="152.4" height="22.7"/><rect class="f" y="46.2" width="152.4" height="22.7"/><path class="d" d="M50.8,46.2V68.9M103,46.2V68.9"/><rect class="b" width="152.4" height="68.9"/><text class="c" x="76.2" y="17">rhnpackageobsoletes</text><text x="4" y="39">...</text><text x="4" y="62.7">&lt; 2</text><text class="r" x="98" y="62.7">0 rows</text></g>
<g id="rhnpackagepredepends" transform="translate(765,1633.7)"><rect class="h" width="161.8" height="23.5"/><rect class="w" y="23.5" width="161.8" height="22.7"/><rect class="f" y="46.2" width="161.8" height="22.7"/><path class="d" d="M54.8,46.2V68.9M108.1,46.2V68.9"/><rect class="b" width="161.8" height="68.9"/><text class="c" x="80.9" y="17">rhnpackagepredepends</text><text x="4" y="39">...</text><text x="4" y="62.7">&lt; 2</text><text class="r" x="103.1" y="62.7">0 rows</text></g>
<g id="rhnpackageprovides" transform="translate(771.2,1731.2)"><rect class="h" width="147.2" height="23.5"/><rect class="w" y="23.5" width="147.2" height="22.7"/><rect class="f" y="46.2" width="147.2" height="22.7"/><path class="d" d="M48.6,46.2V68.9M100.8,46.2V68.9"/><rect class="b" width="147.2" height="68.9"/><text class="c" x="73.6" y="17">rhnpackageprovides</text><text x="4" y="39">...</text><text x="4" y="62.7">&lt; 2</text><text class="r" x="95.8" y="62.7">0 rows</text></g>
<g id="rhnpackagerecommends" transform="translate(761,1828.2)"><rect class="h" width="169.9" height="23.5"/><rect class="w" y="23.5" width="169.9" height="22.7"/><rect class="f" y="46.2" width="169.9" height="22.7"/><path class="d" d="M57.7,46.2V68.9M114,46.2V68.9"/><rect class="b" width="169.9" height="68.9"/><text class="c" x="84.95" y="17">rhnpackagerecommends</text><text x="4" y="39">...</text><text x="4" y="62.7">&lt; 2</text><text class="r" x="109" y="62.7">0 rows</text></g>
<g id="rhnpackagerepodata" transform="translate(770.5,1925.8)"><rect class="h" width="149.4" height="23.5"/><rect class="w" y="23.5" width="149.4" height="22.7"/><rect class="f" y="46.2" width="149.4" height="22.7"/><path class="d" d="M49.3,46.2V68.9M101.5,46.2V68.9"/><rect class="b" width="149.4" height="68.9"/><text class="c" x="74.7" y="17">rhnpackagerepodata</text><text x="4" y="39">...</text><text x="4" y="62.7">&lt; 1</text><text class="r" x="96.5" y="62.7">0 rows</text></g>
<g id="rhnpackagerequires" transform="translate(773,2022.8)"><rect class="h" width="144.3" height="23.5"/><rect class="w" y="23.5" width="144.3" height="22.7"/><rect class="f" y="46.2" width="144.3" height="22.7"/><path class="d" d="M46.8,46.2V68.9M99,46.2V68.9"/><rect class="b" width="144.3" height="68.9"/><text class="c" x="72.15" y="17">rhnpackagerequires</text><text x="4" y="39">...</text><text x="4" y="62.7">&lt; 2</text><text class="r" x="94" y="62.7">0 rows</text></g>
<g id="rhnpackagesuggests" transform="translate(770.5,2120.4)"><rect class="h" width="149.4" height="23.5"/><rect class="w" y="23.5" width="149.4" height="22.7"/><rect class="f" y="46.2" width="149.4" height="22.7"/><path class="d" d="M49.3,46.2V68.9M101.5,46.2V68.9"/><rect class="b" width="149.4" height="68.9"/><text class="c" x="74.7" y="17">rhnpackagesuggests</text><text x="4" y="39">...</text><text x="4" y="62.7">&lt; 2</text><text class="r" x="96.5" y="62.7">0 rows</text></g>
<g id="rhnpackagesupplements" transform="translate(761,2217.3)"><rect class="h" width="169.9" height="23.5"/><rect class="w" y="23.5" width="169.9" height="22.7"/><rect class="f" y="46.2" width="169.9" height="22.7"/><path class="d" d="M57.7,46.2V68.9M114,46.2V68.9"/><rect class="b" width="169.9" height="68.9"/><text class="c" x="84.95" y="17">rhnpackagesupplements</text><text x="4" y="39">...</text><text x="4" y="62.7">&lt; 2</text><text class="r" x="109" y="62.7">0 rows</text></g>
<g id="rhnerratafilepackage" transform="translate(771.5,2314.9)"><rect class="h" width="146.9" height="23.5"/><rect class="w" y="23.5" width="146.9" height="22.7"/><rect class="f" y="46.2" width="146.9" height="22.7"/><path class="d" d="M48.3,46.2V68.9M100.5,46.2V68.9"/><rect class="b" width="146.9" height="68.9"/><text class="c" x="73.45" y="17">rhnerratafilepackage</text><text x="4" y="39">...</text><text x="4" y="62.7">&lt; 2</text><text class="r" x="95.5" y="62.7">0 rows</text></g>
<g id="rhnerratafilepackagetmp" transform="translate(762.4,2412.5)"><rect class="h" width="165.9" height="23.5"/><rect class="w" y="23.5" width="165.9" height="22.7"/><rect class="f" y="46.2" width="165.9" height="22.7"/><path class="d" d="M56.3,46.2V68.9M110.7,46.2V68.9"/><rect class="b" width="165.9" height="68.9"/><text class="c" x="82.95" y="17">rhnerratafilepackagetmp</text><text x="4" y="39">...</text><text x="4" y="62.7">&lt; 2</text><text class="r" x="105.7" y="62.7">0 rows</text></g>
<g id="rhnerratapackage" transform="translate(777,2509.4)"><rect class="h" width="136.3" height="23.5"/><rect class="w" y="23.5" width="136.3" height="22.7"/><rect class="f" y="46.2" width="136.3" height="22.7"/><path class="d" d="M42.8,46.2V68.9M95,46.2V68.9"/><rect class="b" width="136.3" height="68.9"/><text class="c" x="68.15" y="17">rhnerratapackage</text><text x="4" y="39">...</text><text x="4" y="62.7">&lt; 2</text><text class="r" x="90" y="62.7">0 rows</text></g>
<g id="rhnpackagefile" transform="translate(783.6,2607)"><rect class="h" width="123.5" height="23.5"/><rect class="w" y="23.5" width="123.5" height="22.7"/><rect class="f" y="46.2" width="123.5" height="22.7"/><path class="d" d="M36.2,46.2V68.9M88.4,46.2V68.9"/><rect class="b" width="123.5" height="68.9"/><text class="c" x="61.75" y="17">rhnpackagefile</text><text x="4" y="39">...</text><text x="4" y="62.7">&lt; 3</text><text class="r" x="83.4" y="62.7">0 rows</text></g>
<g id="rhnserverneededcache" transform="translate(766.4,2704.6)"><rect class="h" width="157.9" height="23.5"/><rect class="w" y="23.5" width="157.9" height="22.7"/><rect class="f" y="46.2" width="157.9" height="22.7"/><path class="d" d="M53.4,46.2V68.9M105.6,46.2V68.9"/><rect class="b" width="157.9" height="68.9"/><text class="c" x="78.95" y="17">rhnserverneededcache</text><text x="4" y="39">...</text><text x="4" y="62.7">&lt; 4</text><text class="r" x="100.6" y="62.7">0 rows</text></g>
<g id="rhnchannelpackage" transform="translate(773,2801.9)"><rect class="h" width="144.7" height="23.5"/><rect class="w" y="23.5" width="144.7" height="22.7"/><rect class="f" y="46.2" width="144.7" height="22.7"/><path class="d" d="M46.8,46.2V68.9M99,46.2V68.9"/><rect class="b" width="144.7" height="68.9"/><text class="c" x="72.35" y="17">rhnchannelpackage</text><text x="4" y="39">...</text><text x="4" y="62.7">&lt; 2</text><text class="r" x="94" y="62.7">0 rows</text></g>
<g id="rhnreleasechannelmap" transform="translate(766.4,2898.8)"><rect class="h" width="157.9" height="23.5"/><rect class="w" y="23.5" width="157.9" height="22.7"/><rect class="f" y="46.2" width="157.9" height="22.7"/><path class="d" d="M53.4,46.2V68.9M105.6,46.2V68.9"/><rect class="b" width="157.9" height="68.9"/><text class="c" x="78.95" y="17">rhnreleasechannelmap</text><text x="4" y="39">...</text><text x="4" y="62.7">&lt; 2</text><text class="r" x="100.6" y="62.7">0 rows</text></g>
<g id="rhndistchannelmap" transform="translate(774.5,2996.4)"><rect class="h" width="141.7" height="23.5"/><rect class="w" y="23.5" width="141.7" height="22.7"/><rect class="f" y="46.2" width="141.7" height="22.7"/><path class="d" d="M45.3,46.2V68.9M97.5,46.2V68.9"/><rect class="b" width="141.7" height="68.9"/><text class="c" x="70.85" y="17">rhndistchannelmap</text><text x="4" y="39">...</text><text x="4" y="62.7">&lt; 3</text><text class="r" x="92.5" y="62.7">0 rows</text></g>
<g id="rhnchannelcloned" transform="translate(777,3094)"><rect class="h" width="136.3" height="23.5"/><rect class="w" y="23.5" width="136.3" height="22.7"/><rect class="f" y="46.2" width="136.3" height="22.7"/><path class="d" d="M42.8,46.2V68.9M95,46.2V68.9"/><rect class="b" width="136.3" height="68.9"/><text class="c" x="68.15" y="17">rhnchannelcloned</text><text x="4" y="39">...</text><text x="4" y="62.7">&lt; 2</text><text class="r" x="90" y="62.7">0 rows</text></g>
<g id="rhnchannelcomps" transform="translate(777,3190.9)"><rect class="h" width="136.3" height="23.5"/><rect class="w" y="23.5" width="136.3" height="22.7"/><rect class="f" y="46.2" width="136.3" height="22.7"/><path class="d" d="M42.8,46.2V68.9M95,46.2V68.9"/><rect class="b" width="136.3" height="68.9"/><text class="c" x="68.15" y="17">rhnchannelcomps</text><text x="4" y="39">...</text><text x="4" y="62.7">&lt; 1</text><text class="r" x="90" y="62.7">0 rows</text></g>
<g id="rhnchannelcontentsource" transform="translate(758.4,3288.5)"><rect class="h" width="173.9" height="23.5"/><rect class="w" y="23.5" width="173.9" height="22.7"/><rect class="f" y="46.2" width="173.9" height="22.7"/><path class="d" d="M58.8,46.2V68.9M116.6,46.2V68.9"/><rect class="b" width="173.9" height="68.9"/><text class="c" x="86.95" y="17">rhnchannelcontentsource</text><text x="4" y="39">...</text><text x="4" y="62.7">&lt; 2</text><text class="r" x="111.6" y="62.7">0 rows</text></g>
<g id="rhnchannelerrata" transform="translate(778.5,3385.5)"><rect class="h" width="133.7" height="23.5"/><rect class="w" y="23.5" width="133.7" height="22.7"/><rect class="f" y="46.2" width="133.7" height="22.7"/><path class="d" d="M41.3,46.2V68.9M93.5,46.2V68.9"/><rect class="b" width="133.7" height="68.9"/><text class="c" x="66.85" y="17">rhnchannelerrata</text><text x="4" y="39">...</text><text x="4" y="62.7">&lt; 2</text><text class="r" x="88.5" y="62.7">0 rows</text></g>
<g id="rhnchannelfamilymembers" transform="translate(754.4,3483)"><rect class="h" width="181.6" height="23.5"/><rect class="w" y="23.5" width="181.6" height="22.7"/><rect class="f" y="46.2" width="181.6" height="22.7"/><path class="d" d="M61.4,46.2V68.9M122,46.2V68.9"/><rect class="b" width="181.6" height="68.9"/><text class="c" x="90.8" y="17">rhnchannelfamilymembers</text><text x="4" y="39">...</text><text x="4" y="62.7">&lt; 2</text><text class="r" x="117" y="62.7">0 rows</text></g>
<g id="rhnchannelnewestpackageaudit" transform="translate(738.3,3580.6)"><rect class="h" width="214.1" height="23.5"/><rect class="w" y="23.5" width="214.1" height="22.7"/><rect class="f" y="46.2" width="214.1" height="22.7"/><path class="d" d="M72,46.2V68.9M143.2,46.2V68.9"/><rect class="b" width="214.1" height="68.9"/><text class="c" x="107.05" y="17">rhnchannelnewestpackageaudit</text><text x="4" y="39">...</text><text x="4" y="62.7">&lt; 1</text><text class="r" x="138.2" y="62.7">0 rows</text></g>
<g id="rhnchannelpermission" transform="translate(767.5,3677.6)"><rect class="h" width="155" height="23.5"/><rect class="w" y="23.5" width="155" height="22.7"/><rect class="f" y="46.2" width="155" height="22.7"/><path class="d" d="M52.3,46.2V68.9M104.5,46.2V68.9"/><rect class="b" width="155" height="68.9"/><text class="c" x="77.5" y="17">rhnchannelpermission</text><text x="4" y="39">...</text><text x="4" y="62.7">&lt; 3</text><text class="r" x="99.5" y="62.7">0 rows</text></g>
<g id="rhnerratafilechannel" transform="translate(773,3775.5)"><rect class="h" width="144.3" height="23.5"/><rect class="w" y="23.5" width="144.3" height="22.7"/><rect class="f" y="46.2" width="144.3" height="22.7"/><path class="d" d="M46.8,46.2V68.9M99,46.2V68.9"/><rect class="b" width="144.3" height="68.9"/><text class="c" x="72.15" y="17">rhnerratafilechannel</text><text x="4" y="39">...</text><text x="4" y="62.7">&lt; 2</text><text class="r" x="94" y="62.7">0 rows</text></g>
<g id="rhnerratafilechanneltmp" transform="translate(765,3872.4)"><rect class="h" width="161.8" height="23.5"/><rect class="w" y="23.5" width="161.8" height="22.7"/><rect class="f" y="46.2" width="161.8" height="22.7"/><path class="d" d="M54.8,46.2V68.9M108.1,46.2V68.9"/><rect class="b" width="161.8" height="68.9"/><text class="c" x="80.9" y="17">rhnerratafilechanneltmp</text><text x="4" y="39">...</text><text x="4" y="62.7">&lt; 2</text><text class="r" x="103.1" y="62.7">0 rows</text></g>
<g id="rhnerrataqueue" transform="translate(782.5,3970)"><rect class="h" width="125.3" height="23.5"/><rect class="w" y="23.5" width="125.3" height="22.7"/><rect class="f" y="46.2" width="125.3" height="22.7"/><path class="d" d="M37.3,46.2V68.9M89.5,46.2V68.9"/><rect class="b" width="125.3" height="68.9"/><text class="c" x="62.65" y="17">rhnerrataqueue</text><text x="4" y="39">...</text><text x="4" y="62.7">&lt; 2</text><text class="r" x="84.5" y="62.7">0 rows</text></g>
<g id="rhnkickstartchildchannel" transform="translate(762.4,4067.6)"><rect class="h" width="165.9" height="23.5"/><rect class="w" y="23.5" width="165.9" height="22.7"/><rect class="f" y="46.2" width="165.9" height="22.7"/><path class="d" d="M56.3,46.2V68.9M110.7,46.2V68.9"/><rect class="b" width="165.9" height="68.9"/><text class="c" x="82.95" y="17">rhnkickstartchildchannel</text><text x="4" y="39">...</text><text x="4" y="62.7">&lt; 2</text><text class="r" x="105.7" y="62.7">0 rows</text></g>
<g id="rhnregtokenchannels" transform="translate(770.5,4164.5)"><rect class="h" width="149.4" height="23.5"/><rect class="w" y="23.5" width="149.4" height="22.7"/><rect class="f" y="46.2" width="149.4" height="22.7"/><path class="d" d="M49.3,46.2V68.9M101.5,46.2V68.9"/><rect class="b" width="149.4" height="68.9"/><text class="c" x="74.7" y="17">rhnregtokenchannels</text><text x="4" y="39">...</text><text x="4" y="62.7">&lt; 2</text><text class="r" x="96.5" y="62.7">0 rows</text></g>
<g id="rhnserverchannel" transform="translate(778.5,4261.5)"><rect class="h" width="133.7" height="23.5"/><rect class="w" y="23.5" width="133.7" height="22.7"/><rect class="f" y="46.2" width="133.7" height="22.7"/><path class="d" d="M41.3,46.2V68.9M93.5,46.2V68.9"/><rect class="b" width="133.7" height="68.9"/><text class="c" x="66.85" y="17">rhnserverchannel</text><text x="4" y="39">...</text><text x="4" y="62.7">&lt; 2</text><text class="r" x="88.5" y="62.7">0 rows</text></g>
<g id="rhnsnapshotchannel" transform="translate(771.2,4359)"><rect class="h" width="147.2" height="23.5"/><rect class="w" y="23.5" width="147.2" height="22.7"/><rect class="f" y="46.2" width="147.2" height="22.7"/><path class="d" d="M48.6,46.2V68.9M100.8,46.2V68.9"/><rect class="b" width="147.2" height="68.9"/><text class="c" x="73.6" y="17">rhnsnapshotchannel</text><text x="4" y="39">...</text><text x="4" y="62.7">&lt; 2</text><text class="r" x="95.8" y="62.7">0 rows</text></g>
<g id="rhnchanneltrust" transform="translate(782.5,4456.7)"><rect class="h" width="125.3" height="23.5"/><rect class="w" y="23.5" width="125.3" height="22.7"/><rect class="f" y="46.2" width="125.3" height="22.7"/><path class="d" d="M37.3,46.2V68.9M89.5,46.2V68.9"/><rect class="b" width="125.3" height="68.9"/><text class="c" x="62.65" y="17">rhnchanneltrust</text><text x="4" y="39">...</text><text x="4" y="62.7">&lt; 2</text><text class="r" x="84.5" y="62.7">0 rows</text></g>
<g id="rhnserverprofile" transform="translate(781,4553.6)"><rect class="h" width="128.3" height="23.5"/><rect class="w" y="23.5" width="128.3" height="22.7"/><rect class="f" y="46.2" width="128.3" height="22.7"/><path class="d" d="M38.8,46.2V68.9M91,46.2V68.9"/><rect class="b" width="128.3" height="68.9"/><text class="c" x="64.15" y="17">rhnserverprofile</text><text x="4" y="39">...</text><text x="4" y="62.7">&lt; 3</text><text class="r" x="86" y="62.7">0 rows</text><text class="r" x="123.3" y="62.7">3 &gt;</text></g>
<g id="rhnkickstartabletree" transform="translate(773,4651.2)"><rect class="h" width="144.3" height="23.5"/><rect class="w" y="23.5" width="144.3" height="22.7"/><rect class="f" y="46.2" width="144.3" height="22.7"/><path class="d" d="M46.2,46.2V68.9M98.8,46.2V68.9"/><rect class="b" width="144.3" height="68.9"/><text class="c" x="72.15" y="17">rhnkickstartabletree</text><text x="4" y="39">...</text><text x="4" y="62.7">&lt; 4</text><text class="r" x="93.8" y="62.7">0 rows</text><text class="r" x="139.3" y="62.7">3 &gt;</text></g>
<g id="rhnerratanotificationqueue" transform="translate(756.6,4748.3)"><rect class="h" width="177.9" height="23.5"/><rect class="w" y="23.5" width="177.9" height="22.7"/><rect class="f" y="46.2" width="177.9" height="22.7"/><path class="d" d="M60.4,46.2V68.9M119.9,46.2V68.9"/><rect class="b" width="177.9" height="68.9"/><text class="c" x="88.95" y="17">rhnerratanotificationqueue</text><text x="4" y="39">...</text><text x="4" y="62.7">&lt; 3</text><text class="r" x="114.9" y="62.7">0 rows</text></g>
<g id="rhnorgchannelsettings" transform="translate(767.4,4845.3)"><rect class="h" width="154.7" height="23.5"/><rect class="w" y="23.5" width="154.7" height="22.7"/><rect class="f" y="46.2" width="154.7" height="22.7"/><path class="d" d="M51.8,46.2V68.9M104.4,46.2V68.9"/><rect class="b" width="154.7" height="68.9"/><text class="c" x="77.35" y="17">rhnorgchannelsettings</text><text x="4" y="39">...</text><text x="4" y="62.7">&lt; 3</text><text class="r" x="99.4" y="62.7">0 rows</text></g>

<text x="17" y="4957">Generated by SchemaSpy</text>
</g>
</svg>
